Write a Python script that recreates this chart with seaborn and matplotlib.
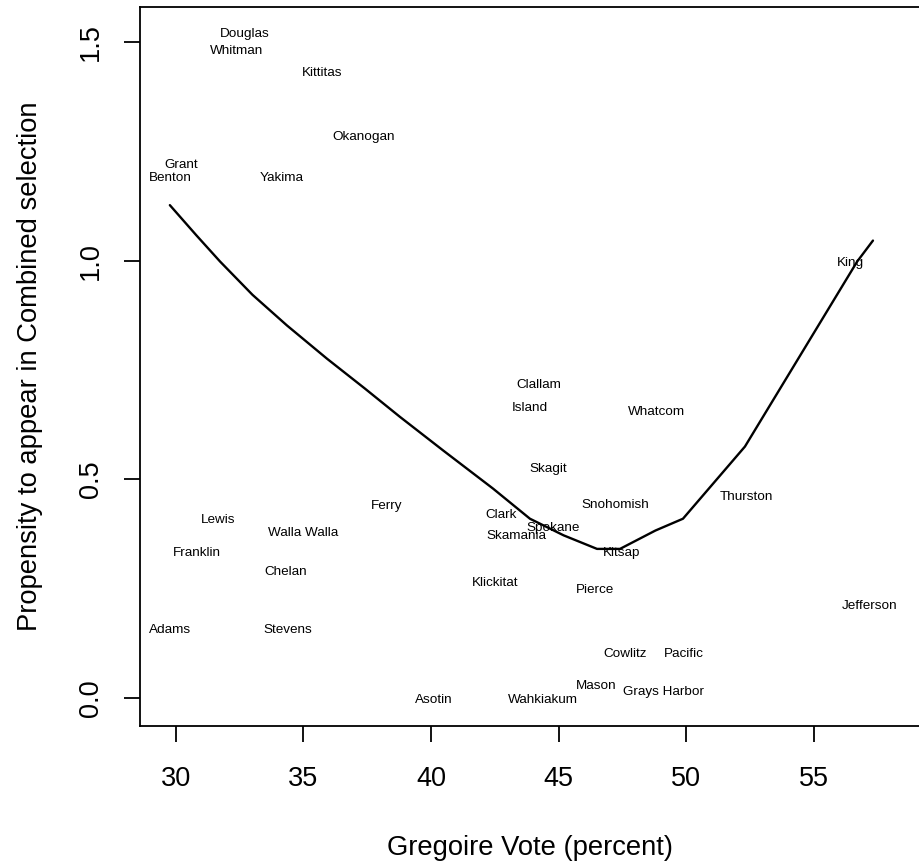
import matplotlib
matplotlib.use("Agg")
import matplotlib.pyplot as plt
import seaborn as sns
import pandas as pd

# county labels, placed at (Gregoire vote, propensity)
counties = [
    "Douglas", "Whitman", "Kittitas", "Okanogan", "Grant", "Benton", "Yakima",
    "King", "Clallam", "Island", "Whatcom", "Skagit", "Thurston", "Snohomish",
    "Ferry", "Clark", "Lewis", "Spokane", "Walla Walla", "Skamania", "Franklin",
    "Kitsap", "Chelan", "Klickitat", "Pierce", "Jefferson", "Adams", "Stevens",
    "Cowlitz", "Pacific", "Mason", "Grays Harbor", "Asotin", "Wahkiakum",
]
gregoire = [
    32.71, 32.39, 35.73, 37.37, 30.20, 29.76, 34.16,
    56.43, 44.24, 43.88, 48.86, 44.59, 52.35, 47.22,
    38.27, 42.75, 31.65, 44.78, 34.98, 43.35, 30.80,
    47.49, 34.31, 42.51, 46.43, 57.18, 29.76, 34.40,
    47.60, 49.92, 46.47, 49.10, 40.12, 44.39,
]
propensity = [
    1.522, 1.482, 1.433, 1.287, 1.223, 1.193, 1.193,
    0.998, 0.719, 0.666, 0.657, 0.527, 0.463, 0.444,
    0.442, 0.421, 0.410, 0.392, 0.380, 0.373, 0.334,
    0.334, 0.291, 0.266, 0.250, 0.215, 0.160, 0.160,
    0.105, 0.103, 0.032, 0.018, 0.000, 0.000,
]

# smoothed (lowess) curve
smooth_x = [29.76, 30.80, 31.73, 33.00, 34.35, 35.92, 37.40, 38.78, 40.50,
            42.43, 43.88, 45.20, 46.51, 47.41, 48.80, 49.88, 52.31, 56.71, 57.33]
smooth_y = [1.127, 1.058, 0.998, 0.922, 0.852, 0.776, 0.708, 0.643, 0.565,
            0.479, 0.410, 0.372, 0.341, 0.341, 0.383, 0.410, 0.575, 0.998, 1.046]

sns.set_style("ticks")
plt.rcParams["font.family"] = ["Liberation Sans", "DejaVu Sans"]

fig = plt.figure(figsize=(9.19, 8.67), dpi=100)
ax = fig.add_axes([0.1518, 0.1626, 0.850, 0.8293])

df_smooth = pd.DataFrame({"x": smooth_x, "y": smooth_y})
sns.lineplot(data=df_smooth, x="x", y="y", ax=ax, color="black", linewidth=1.7,
             sort=False, estimator=None)

for name, gx, py in zip(counties, gregoire, propensity):
    ax.text(gx, py, name, ha="center", va="center_baseline", fontsize=9.7, color="black")

ax.set_xlim(28.57, 59.2)
ax.set_ylim(-0.064, 1.580)
ax.set_xticks([30, 35, 40, 45, 50, 55])
ax.set_yticks([0.0, 0.5, 1.0, 1.5])
ax.set_yticklabels(["0.0", "0.5", "1.0", "1.5"], rotation=90, va="center")

for side in ["left", "bottom", "top", "right"]:
    ax.spines[side].set_visible(True)
    ax.spines[side].set_linewidth(1.3)
    ax.spines[side].set_color("black")

ax.tick_params(axis="both", direction="out", length=11.5, width=1.3,
               labelsize=19.5, colors="black", labelcolor="black")
ax.tick_params(axis="x", pad=17)
ax.tick_params(axis="y", pad=14)

ax.set_xlabel("Gregoire Vote (percent)", fontsize=19.7, color="black")
ax.set_ylabel("Propensity to appear in Combined selection", fontsize=19.7, color="black")
ax.xaxis.set_label_coords(0.5, -0.170)
ax.xaxis.label.set_va("center")
ax.yaxis.set_label_coords(-0.140, 0.5)
ax.yaxis.label.set_va("center")

fig.savefig("out.png", dpi=100)
